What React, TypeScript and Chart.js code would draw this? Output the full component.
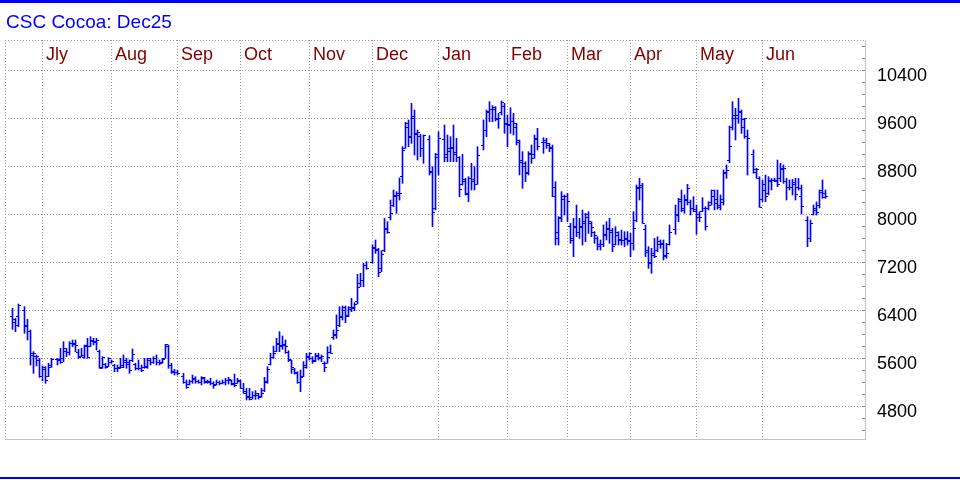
import React, { useEffect, useRef } from "react";
import { Chart, registerables } from "chart.js";

Chart.register(...registerables);

const title = "CSC Cocoa: Dec25";
const firstDate = "2024-06-14";

const dates = [
  "2024-06-14","2024-06-17","2024-06-18","2024-06-20","2024-06-21","2024-06-24","2024-06-25","2024-06-26","2024-06-27","2024-06-28",
  "2024-07-01","2024-07-02","2024-07-03","2024-07-05","2024-07-08","2024-07-09","2024-07-10","2024-07-11","2024-07-12","2024-07-15","2024-07-16","2024-07-17","2024-07-18","2024-07-19","2024-07-22","2024-07-23","2024-07-24","2024-07-25","2024-07-26","2024-07-29","2024-07-30","2024-07-31",
  "2024-08-01","2024-08-02","2024-08-05","2024-08-06","2024-08-07","2024-08-08","2024-08-09","2024-08-12","2024-08-13","2024-08-14","2024-08-15","2024-08-16","2024-08-19","2024-08-20","2024-08-21","2024-08-22","2024-08-23","2024-08-26","2024-08-27","2024-08-28","2024-08-29","2024-08-30",
  "2024-09-03","2024-09-04","2024-09-05","2024-09-06","2024-09-09","2024-09-10","2024-09-11","2024-09-12","2024-09-13","2024-09-16","2024-09-17","2024-09-18","2024-09-19","2024-09-20","2024-09-23","2024-09-24","2024-09-25","2024-09-26","2024-09-27","2024-09-30",
  "2024-10-01","2024-10-02","2024-10-03","2024-10-04","2024-10-07","2024-10-08","2024-10-09","2024-10-10","2024-10-11","2024-10-14","2024-10-15","2024-10-16","2024-10-17","2024-10-18","2024-10-21","2024-10-22","2024-10-23","2024-10-24","2024-10-25","2024-10-28","2024-10-29","2024-10-30","2024-10-31",
  "2024-11-01","2024-11-04","2024-11-05","2024-11-06","2024-11-07","2024-11-08","2024-11-11","2024-11-12","2024-11-13","2024-11-14","2024-11-15","2024-11-18","2024-11-19","2024-11-20","2024-11-21","2024-11-22","2024-11-25","2024-11-26","2024-11-27","2024-11-29",
  "2024-12-02","2024-12-03","2024-12-04","2024-12-05","2024-12-06","2024-12-09","2024-12-10","2024-12-11","2024-12-12","2024-12-13","2024-12-16","2024-12-17","2024-12-18","2024-12-19","2024-12-20","2024-12-23","2024-12-24","2024-12-26","2024-12-27","2024-12-30","2024-12-31",
  "2025-01-02","2025-01-03","2025-01-06","2025-01-07","2025-01-08","2025-01-09","2025-01-10","2025-01-13","2025-01-14","2025-01-15","2025-01-16","2025-01-17","2025-01-21","2025-01-22","2025-01-23","2025-01-24","2025-01-27","2025-01-28","2025-01-29","2025-01-30","2025-01-31",
  "2025-02-03","2025-02-04","2025-02-05","2025-02-06","2025-02-07","2025-02-10","2025-02-11","2025-02-12","2025-02-13","2025-02-14","2025-02-18","2025-02-19","2025-02-20","2025-02-21","2025-02-24","2025-02-25","2025-02-26","2025-02-27","2025-02-28",
  "2025-03-03","2025-03-04","2025-03-05","2025-03-06","2025-03-07","2025-03-10","2025-03-11","2025-03-12","2025-03-13","2025-03-14","2025-03-17","2025-03-18","2025-03-19","2025-03-20","2025-03-21","2025-03-24","2025-03-25","2025-03-26","2025-03-27","2025-03-28","2025-03-31",
  "2025-04-01","2025-04-02","2025-04-03","2025-04-04","2025-04-07","2025-04-08","2025-04-09","2025-04-10","2025-04-11","2025-04-14","2025-04-15","2025-04-16","2025-04-17","2025-04-21","2025-04-22","2025-04-23","2025-04-24","2025-04-25","2025-04-28","2025-04-29","2025-04-30",
  "2025-05-01","2025-05-02","2025-05-05","2025-05-06","2025-05-07","2025-05-08","2025-05-09","2025-05-12","2025-05-13","2025-05-14","2025-05-15","2025-05-16","2025-05-19","2025-05-20","2025-05-21","2025-05-22","2025-05-23","2025-05-27","2025-05-28","2025-05-29","2025-05-30",
  "2025-06-02","2025-06-03","2025-06-04","2025-06-05","2025-06-06","2025-06-09","2025-06-10","2025-06-11","2025-06-12","2025-06-13","2025-06-16","2025-06-17","2025-06-18","2025-06-20","2025-06-23","2025-06-24","2025-06-25","2025-06-26","2025-06-27","2025-06-30",
];

const openPrices = [
  6300,6195,6300,6400,6150,6050,5690,5640,5560,5300,
  5420,5300,5480,5580,5560,5600,5720,5700,5850,5830,5700,5640,5650,5800,5800,5880,5870,5720,5450,5500,5470,5530,
  5480,5440,5450,5480,5560,5500,5560,5500,5430,5440,5450,5460,5560,5540,5600,5530,5530,5600,5800,5480,5390,5370,
  5300,5200,5160,5220,5250,5210,5200,5270,5210,5220,5180,5160,5200,5180,5200,5230,5230,5180,5180,5220,
  5100,5050,4960,4950,4980,4990,4960,5060,5220,5500,5620,5710,5850,5800,5820,5700,5560,5420,5350,5200,5300,5480,5640,
  5600,5560,5640,5600,5520,5520,5700,5950,6000,6150,6300,6400,6300,6450,6450,6550,6850,6900,7150,7200,
  7450,7400,7100,7400,7750,7950,8150,8300,8350,8633,9100,9450,9300,9600,9350,9300,9100,9250,8700,8100,9000,
  9250,9000,9100,9100,9000,8950,8500,8550,8350,8600,8550,8494,9150,9400,9700,9750,9750,9600,9700,9800,9500,
  9500,9550,9450,9200,8900,8800,8700,9000,9000,9250,9200,9200,9150,9100,8450,7600,7950,8250,8300,
  7800,7600,7800,7700,7800,7850,7950,7850,7700,7600,7500,7500,7650,7750,7700,7500,7650,7580,7560,7580,7550,
  7520,7900,8450,8450,7750,7400,7200,7350,7400,7500,7500,7300,7500,7750,8000,8250,8100,8250,8200,8100,8050,
  7950,8050,8100,8100,8200,8300,8250,8150,8200,8700,8900,9450,9600,9600,9700,9450,9300,9000,8700,8600,8250,
  8400,8350,8550,8560,8550,8600,8750,8550,8450,8450,8500,8450,8300,7900,7600,8000,8100,8150,8400,8350,
];

const highPrices = [
  6428,6262,6500,6456,6244,6067,5706,5650,5594,5467,
  5456,5511,5594,5594,5761,5872,5761,5872,5900,5900,5744,5761,5817,5928,5956,5928,5928,5733,5622,5511,5606,5567,
  5494,5483,5594,5650,5594,5567,5750,5511,5567,5483,5594,5594,5594,5622,5650,5567,5594,5828,5817,5511,5411,5400,
  5344,5233,5233,5317,5289,5233,5289,5278,5233,5261,5206,5233,5217,5233,5261,5278,5233,5333,5261,5233,
  5178,5094,5094,5039,5056,5011,5094,5278,5456,5678,5800,5928,6039,5967,5900,5722,5567,5428,5372,5400,5539,5678,5689,
  5622,5678,5678,5650,5539,5789,5817,6067,6317,6456,6467,6467,6456,6594,6522,6994,7011,7178,7206,7483,
  7567,7428,7389,7928,7872,8233,8400,8372,8600,9122,9528,9567,9844,9733,9400,9328,9317,9306,8789,9011,9372,
  9483,9317,9289,9483,9261,8956,8994,8594,8622,8844,8789,9122,9567,9733,9872,9806,9789,9678,9883,9844,9650,
  9772,9678,9511,9233,9039,8872,9039,9150,9317,9428,9272,9261,9178,9150,8539,7956,8372,8317,8344,
  7844,7928,8150,7928,8067,8011,8039,7872,7706,7622,7567,7817,7872,7928,7761,7789,7706,7733,7706,7706,7678,
  8039,8483,8594,8511,7817,7456,7428,7594,7622,7567,7567,7511,7817,8150,8261,8400,8317,8494,8233,8289,8150,
  8039,8272,8122,8206,8400,8400,8400,8317,8733,8817,9467,9872,9761,9928,9733,9594,9400,9067,8761,8622,8567,
  8650,8622,8594,8594,8900,8844,8817,8594,8567,8578,8594,8594,8483,7956,7900,8150,8200,8400,8567,8400,
];

const lowPrices = [
  6078,6038,6122,6011,5900,5483,5344,5467,5278,5222,
  5178,5289,5444,5483,5511,5539,5622,5650,5789,5706,5594,5622,5594,5594,5789,5817,5733,5428,5428,5428,5456,5511,
  5372,5372,5428,5439,5428,5344,5539,5400,5400,5372,5428,5428,5483,5511,5483,5483,5511,5594,5428,5344,5317,5317,
  5178,5094,5150,5178,5178,5178,5150,5178,5178,5150,5094,5150,5150,5167,5150,5167,5150,5122,5178,5094,
  5011,4900,4900,4917,4911,4917,4944,5039,5178,5483,5594,5706,5706,5744,5678,5539,5344,5333,5178,5039,5289,5428,5567,
  5511,5539,5567,5539,5372,5511,5678,5911,5928,6122,6233,6189,6289,6372,6389,6500,6789,6789,7078,7178,
  7344,6956,7039,7372,7678,7900,8122,8011,8233,8511,9094,9122,9178,8983,8900,8956,8844,8650,7789,8067,8650,
  8872,8872,8872,8872,8872,8289,8483,8317,8206,8400,8400,8494,9067,9289,9539,9539,9550,9428,9650,9344,9122,
  9344,9317,9150,8650,8428,8539,8650,8844,8928,9067,9011,9094,9039,8289,7483,7483,7872,7983,7872,
  7511,7289,7622,7594,7483,7539,7678,7622,7511,7400,7400,7456,7567,7511,7372,7483,7483,7483,7456,7483,7289,
  7400,7872,8233,7844,7289,7094,7011,7272,7372,7428,7233,7261,7483,7661,7872,8039,8011,8150,7983,8039,7661,
  7872,8039,7733,8067,8150,8067,8080,8067,8150,8594,8856,9400,9233,9511,9344,9261,8650,8678,8594,8111,8206,
  8206,8317,8400,8539,8456,8539,8511,8233,8400,8317,8233,8400,8000,7456,7539,7983,7983,8100,8261,8261,
];

const closePrices = [
  6250,6150,6483,6133,6056,5650,5678,5633,5300,5456,
  5233,5456,5578,5578,5539,5761,5706,5855,5844,5817,5622,5622,5811,5622,5900,5889,5900,5428,5611,5456,5594,5550,
  5428,5428,5456,5539,5539,5400,5661,5428,5439,5400,5444,5594,5539,5594,5539,5511,5583,5828,5483,5372,5372,5344,
  5206,5122,5217,5261,5217,5206,5278,5206,5206,5178,5150,5206,5178,5194,5233,5244,5167,5150,5233,5106,
  5022,4956,4911,4983,5011,4944,5011,5206,5411,5622,5678,5833,5817,5833,5800,5578,5456,5372,5206,5289,5456,5622,5678,
  5556,5650,5622,5633,5456,5622,5689,5983,6067,6289,6456,6317,6411,6428,6500,6789,6900,7150,7094,7428,
  7411,7039,7333,7761,7706,8011,8317,8317,8356,9067,9511,9289,9639,9328,9372,9094,9317,8717,8039,8956,9261,
  8956,9050,9122,9039,8956,8417,8583,8328,8594,8583,8494,8983,9400,9717,9750,9789,9583,9594,9872,9511,9483,
  9550,9511,9233,8872,8844,8678,9011,8939,9261,9139,9233,9178,9122,8300,7706,7928,8306,8306,8217,
  7567,7789,7706,7789,7883,7994,7883,7789,7650,7472,7494,7661,7761,7733,7472,7694,7567,7567,7594,7567,7511,
  7772,8428,8483,7856,7372,7178,7317,7306,7550,7511,7317,7344,7694,7983,8217,8067,8233,8428,8094,8083,7994,
  7956,8106,7806,8150,8400,8178,8120,8244,8689,8733,9133,9650,9650,9722,9578,9594,9261,8744,8744,8122,8500,
  8300,8567,8567,8567,8500,8761,8761,8444,8456,8539,8333,8428,8133,7594,7856,8067,8039,8372,8289,8300,
];

const monthNames = ["Jly", "Aug", "Sep", "Oct", "Nov", "Dec", "Jan", "Feb", "Mar", "Apr", "May", "Jun"];
const monthStarts = ["2024-07-01", "2024-08-01", "2024-09-02", "2024-10-01", "2024-11-01", "2024-12-02", "2025-01-01", "2025-02-03", "2025-03-03", "2025-04-01", "2025-05-01", "2025-06-02"];
const priceTicks = [4800, 5600, 6400, 7200, 8000, 8800, 9600, 10400];
const priceMin = 4233.33;
const priceMax = 10900;
const minorStep = 200;

const FONT = "'Liberation Sans', Arial, Helvetica, sans-serif";

function toUTC(s: string): number {
  const [y, m, d] = s.split("-").map(Number);
  return Date.UTC(y, m - 1, d);
}

function weekdayIndex(s: string): number {
  const start = toUTC(firstDate);
  const end = toUTC(s);
  let n = 0;
  for (let t = start + 864e5; t <= end; t += 864e5) {
    const wd = new Date(t).getUTCDay();
    if (wd !== 0 && wd !== 6) n++;
  }
  return n;
}

export default function App() {
  const ref = useRef<HTMLCanvasElement>(null);

  useEffect(() => {
    document.body.style.margin = "0";
    const canvas = ref.current!;
    const xs = dates.map(weekdayIndex);
    const monthX = monthStarts.map((m) => weekdayIndex(m) - 1);

    const decor = {
      id: "decor",
      beforeDraw(chart: any) {
        const { ctx, chartArea: a, scales } = chart;
        const x = scales.x;
        const y = scales.y;
        const L = Math.round(a.left);
        const R = Math.round(a.right);
        const T = Math.round(a.top);
        const B = Math.round(a.bottom);
        ctx.save();
        ctx.fillStyle = "#ffffff";
        ctx.fillRect(0, 0, chart.width, chart.height);
        ctx.fillStyle = "#0000ff";
        ctx.fillRect(0, 0, chart.width, 3);
        ctx.fillRect(0, 477, chart.width, 2);
        ctx.font = `19px ${FONT}`;
        ctx.textBaseline = "alphabetic";
        ctx.textAlign = "left";
        ctx.fillText(title, 6, 28);

        ctx.fillStyle = "#9a9a9a";
        const hdots = (py: number) => {
          for (let px = L; px < R; px += 3) ctx.fillRect(px, py, 1, 1);
        };
        const vdots = (px: number) => {
          for (let py = T; py < B; py += 3) ctx.fillRect(px, py, 1, 1);
        };
        hdots(T);
        vdots(L);
        priceTicks.forEach((v) => hdots(Math.round(y.getPixelForValue(v))));
        monthX.forEach((mx) => vdots(Math.floor(x.getPixelForValue(mx))));
        ctx.fillStyle = "#8a8a8a";
        for (let v = Math.ceil(priceMin / minorStep) * minorStep; v <= priceMax; v += minorStep) {
          ctx.fillRect(R - 3, Math.round(y.getPixelForValue(v)), 3, 1);
        }
        ctx.fillStyle = "#c0c0c0";
        ctx.fillRect(R, T, 1, B - T);
        ctx.fillRect(L, B - 1, R - L + 1, 1);

        ctx.fillStyle = "#800000";
        ctx.font = `18px ${FONT}`;
        monthNames.forEach((n, i) => {
          ctx.fillText(n, Math.floor(x.getPixelForValue(monthX[i])) + 4, 60);
        });
        ctx.restore();
      },
      afterDatasetsDraw(chart: any) {
        const { ctx, scales } = chart;
        const x = scales.x;
        const y = scales.y;
        ctx.save();
        ctx.fillStyle = "#0000ff";
        xs.forEach((xv, i) => {
          const px = Math.round(x.getPixelForValue(xv) - 0.5);
          ctx.fillRect(px - 2, Math.round(y.getPixelForValue(openPrices[i])), 2, 1);
          ctx.fillRect(px + 1, Math.round(y.getPixelForValue(closePrices[i])), 2, 1);
        });
        ctx.restore();
      },
    };

    const chart = new Chart(canvas, {
      type: "bar",
      data: {
        datasets: [
          {
            data: xs.map((xv, i) => ({ x: xv, y: [lowPrices[i], highPrices[i]] })) as any,
            backgroundColor: "#0000ff",
            borderWidth: 0,
            barThickness: 1,
          },
        ],
      },
      options: {
        responsive: false,
        animation: false,
        devicePixelRatio: 1,
        layout: { padding: { left: 5, top: 40, bottom: 40, right: 0 } },
        plugins: {
          legend: { display: false },
          tooltip: { enabled: false },
          title: { display: false },
        },
        scales: {
          x: {
            type: "linear",
            display: false,
            min: -2.5,
            max: 284.1667,
            offset: false,
          },
          y: {
            position: "right",
            min: priceMin,
            max: priceMax,
            afterBuildTicks: (s: any) => {
              s.ticks = priceTicks.map((v) => ({ value: v }));
            },
            afterFit: (s: any) => {
              s.width = 95;
            },
            grid: { display: false, drawTicks: false },
            border: { display: false },
            ticks: {
              autoSkip: false,
              padding: 12,
              labelOffset: 6,
              color: "#000000",
              font: { family: FONT, size: 18 },
              callback: (v: any) => String(v),
            },
          },
        },
      },
      plugins: [decor],
    } as any);

    return () => chart.destroy();
  }, []);

  return <canvas ref={ref} width={960} height={480} style={{ display: "block" }} />;
}
